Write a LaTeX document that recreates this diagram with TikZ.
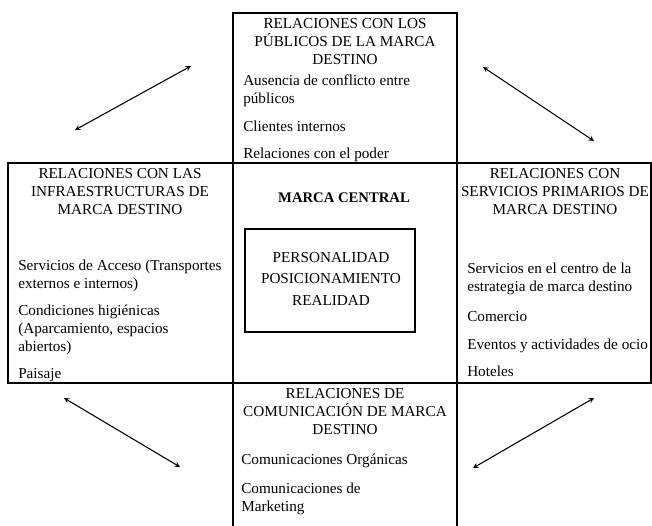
\documentclass[tikz,border=0pt]{standalone}
\usepackage{fontspec}
\setmainfont{Liberation Serif}

\begin{document}
\begin{tikzpicture}[x=0.75pt,y=-0.75pt,
    every node/.style={inner sep=0pt, font=\fontsize{11.4}{13.5}\selectfont},
    frame/.style={line width=1.6pt},
    head/.style={align=center, anchor=base},
    entry/.style={align=left, anchor=base west},
    link/.style={<->, >=stealth, line width=0.8pt}]
    \useasboundingbox (0,0) rectangle (652,525);
    % frames
    \draw [frame] (233,13) rectangle (457,163);
    \draw [frame] (8,163) rectangle (651,383);
    \draw [frame] (233,163) -- (233,383);
    \draw [frame] (457,163) -- (457,383);
    \draw [frame] (233,383) -- (233,526);
    \draw [frame] (457,383) -- (457,526);
    \draw [line width=1.2pt] (245,229) rectangle (415,332);
    % top box (base = last line)
    \node (pubhead) at (345,64) [head] {RELACIONES CON LOS\\PÚBLICOS DE LA MARCA\\DESTINO};
    \node (pub1) at (243,103) [entry] {Ausencia de conflicto entre\\públicos};
    \node (pub2) at (243,131) [entry] {Clientes internos};
    \node (pub3) at (243,158) [entry] {Relaciones con el poder};
    % left box
    \node (infhead) at (120,214) [head] {RELACIONES CON LAS\\INFRAESTRUCTURAS DE\\MARCA DESTINO};
    \node (inf1) at (18,288) [entry] {Servicios de Acceso (Transportes\\externos e internos)};
    \node (inf2) at (18,351) [entry] {Condiciones higiénicas\\(Aparcamiento, espacios\\abiertos)};
    \node (inf3) at (18,378) [entry] {Paisaje};
    % right box
    \node (serhead) at (555,214) [head] {RELACIONES CON\\SERVICIOS PRIMARIOS DE\\MARCA DESTINO};
    \node (ser1) at (467,291) [entry] {Servicios en el centro de la\\estrategia de marca destino};
    \node (ser2) at (467,321) [entry] {Comercio};
    \node (ser3) at (467,349) [entry] {Eventos y actividades de ocio};
    \node (ser4) at (467,376) [entry] {Hoteles};
    % centre
    \node (central) at (344,202) [anchor=base, font=\fontsize{11}{14}\selectfont\bfseries] {MARCA CENTRAL};
    \node (core) at (331,305) [head, font=\fontsize{11.4}{16}\selectfont] {PERSONALIDAD\\POSICIONAMIENTO\\REALIDAD};
    % bottom box
    \node (comhead) at (345,434) [head] {RELACIONES DE\\COMUNICACIÓN DE MARCA\\DESTINO};
    \node (com1) at (241,464) [entry] {Comunicaciones Orgánicas};
    \node (com2) at (241,511) [entry] {Comunicaciones de\\Marketing};
    % arrows
    \coordinate (tla) at (75,130);
    \coordinate (tlb) at (191,66);
    \coordinate (tra) at (483,67);
    \coordinate (trb) at (594,141);
    \coordinate (bla) at (64,398);
    \coordinate (blb) at (180,467);
    \coordinate (bra) at (473,468);
    \coordinate (brb) at (594,398);
    \draw [link] (tla) -- (tlb);
    \draw [link] (tra) -- (trb);
    \draw [link] (bla) -- (blb);
    \draw [link] (bra) -- (brb);
\end{tikzpicture}
\end{document}
